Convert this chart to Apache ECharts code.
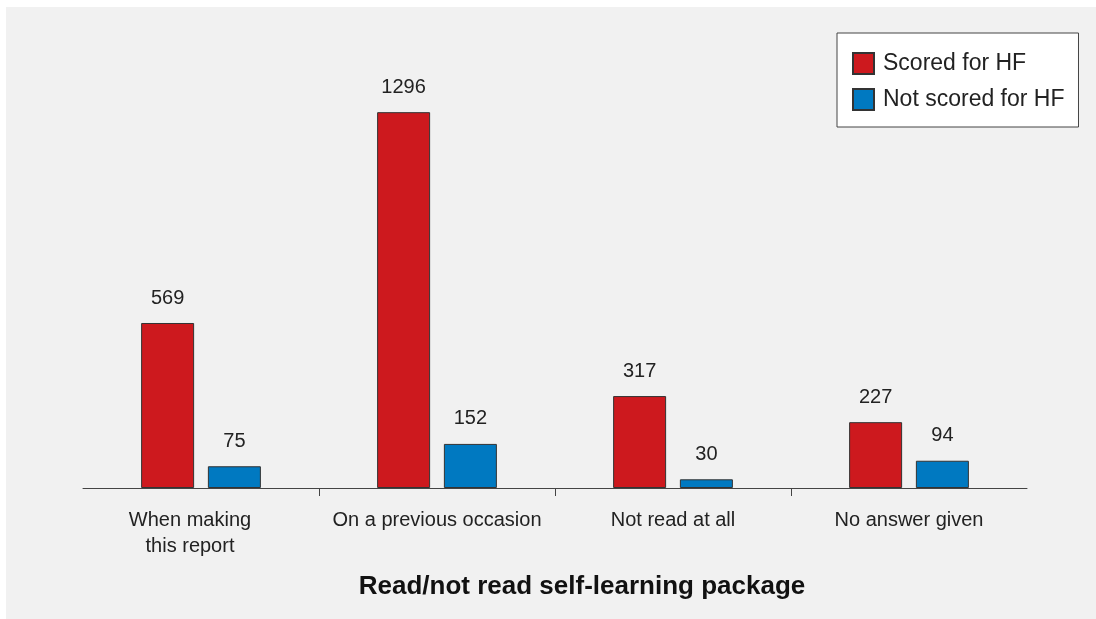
<!DOCTYPE html>
<html>
<head>
<meta charset="utf-8">
<script src="https://cdn.jsdelivr.net/npm/echarts@6/dist/echarts.min.js"></script>
<style>
  html, body { margin: 0; padding: 0; background: #ffffff; }
  #chart { position: absolute; left: 6px; top: 7px; width: 1090px; height: 612px; }
</style>
</head>
<body>
<div id="chart"></div>
<script>
const categories = ['When making\nthis report', 'On a previous occasion', 'Not read at all', 'No answer given'];
const scoredHF = [569, 1296, 317, 227];
const notScoredHF = [75, 152, 30, 94];
const seriesNames = ['Scored for HF', 'Not scored for HF'];
const axisTitle = 'Read/not read self-learning package';

const FONT = '"Liberation Sans", Arial, Helvetica, sans-serif';
const chart = echarts.init(document.getElementById('chart'), null, { renderer: 'canvas' });

const labelStyle = {
  show: true,
  position: 'top',
  distance: 15,
  color: '#222',
  fontFamily: FONT,
  fontSize: 20,
  lineHeight: 20
};

const categoryData = categories.map(function (c, i) {
  return i === 0 ? { value: c, textStyle: { padding: [0, 22, 0, 0] } } : c;
});

chart.setOption({
  backgroundColor: '#f1f1f1',
  animation: false,
  grid: { left: 77, right: 69, top: 46, bottom: 131, containLabel: false },
  legend: {
    orient: 'vertical',
    left: 831,
    top: 26,
    padding: [19, 14, 16, 15],
    itemWidth: 21,
    itemHeight: 21,
    itemGap: 13,
    backgroundColor: '#ffffff',
    borderColor: '#444',
    borderWidth: 1,
    borderRadius: 0,
    icon: 'rect',
    textStyle: { color: '#222', fontFamily: FONT, fontSize: 23, lineHeight: 21, padding: [0, 0, 0, 4] },
    data: seriesNames
  },
  xAxis: [
    {
      type: 'category',
      data: categoryData,
      position: 'bottom',
      boundaryGap: true,
      axisLine: { show: true, lineStyle: { color: '#444', width: 1 } },
      axisTick: { show: false },
      axisLabel: { color: '#222', fontFamily: FONT, fontSize: 20, lineHeight: 26, margin: 19, interval: 0 }
    },
    {
      type: 'category',
      data: ['0', '1', '2', '3', '4'],
      position: 'bottom',
      boundaryGap: false,
      axisLine: { show: false },
      axisLabel: { show: false },
      axisTick: {
        show: true,
        length: 8,
        interval: function (index) { return index > 0 && index < 4; },
        lineStyle: { color: '#444', width: 1 }
      },
      splitLine: { show: false }
    }
  ],
  yAxis: {
    type: 'value',
    min: 0,
    max: 1500,
    show: false,
    splitLine: { show: false }
  },
  graphic: [
    {
      type: 'text',
      x: 576,
      y: 580,
      style: {
        text: axisTitle,
        fill: '#111',
        font: 'bold 26px ' + FONT,
        textAlign: 'center',
        textVerticalAlign: 'middle'
      }
    }
  ],
  series: [
    {
      name: seriesNames[0],
      type: 'bar',
      xAxisIndex: 0,
      data: scoredHF,
      barWidth: 53,
      barGap: '26%',
      itemStyle: { color: '#cd191e', borderColor: '#333', borderWidth: 1 },
      label: labelStyle
    },
    {
      name: seriesNames[1],
      type: 'bar',
      xAxisIndex: 0,
      data: notScoredHF,
      barWidth: 53,
      barGap: '26%',
      itemStyle: { color: '#0079c1', borderColor: '#333', borderWidth: 1 },
      label: labelStyle
    }
  ]
});
</script>
</body>
</html>
